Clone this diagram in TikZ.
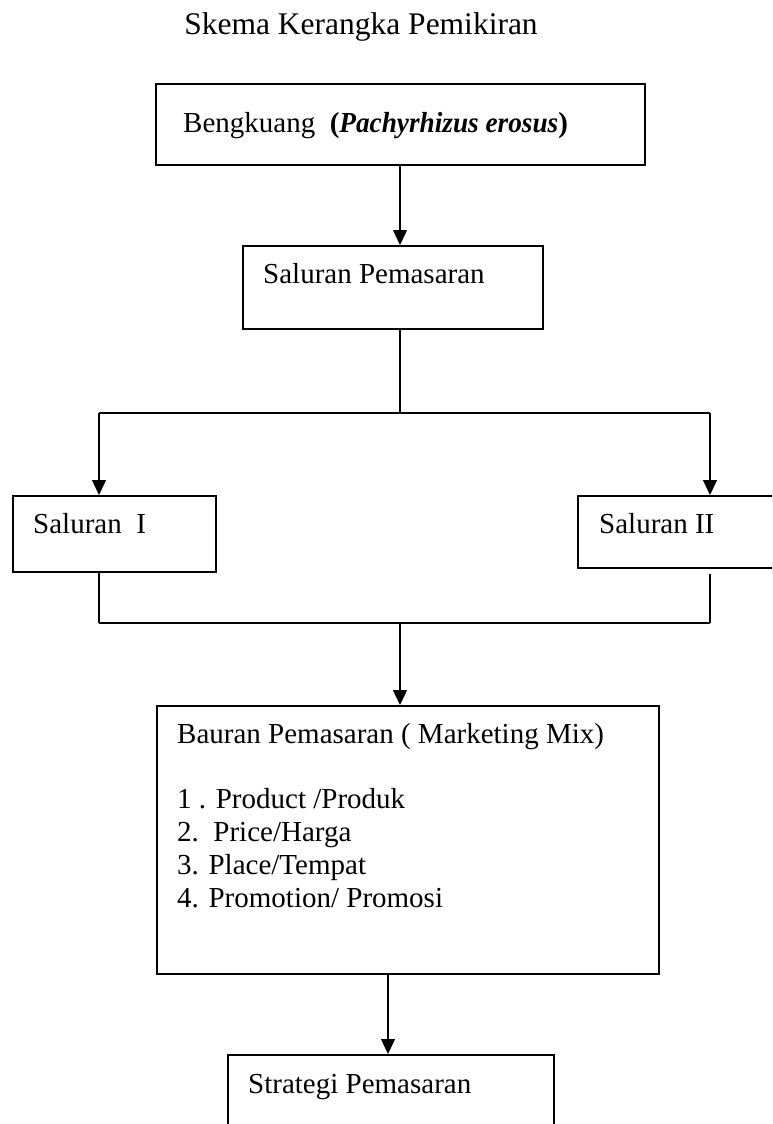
\documentclass[tikz,border=0pt]{standalone}
\usepackage{fontspec}
\setmainfont{Liberation Serif}
\newfontfamily\latinname{Liberation Serif}[FakeStretch=0.94]
\usetikzlibrary{arrows.meta}

\begin{document}
\begin{tikzpicture}[x=1pt, y=-1pt]
    \tikzset{box/.style = {shape=rectangle, draw, line width=1.6pt, anchor=north west, inner sep=0pt}}
    \tikzset{txt/.style = {anchor=base west, inner sep=0pt, font=\fontsize{29}{33}\selectfont}}
    \tikzset{link/.style = {draw, line width=1.3pt}}
    \tikzset{edge/.style = {link, -{Triangle[length=15pt, width=14pt]}}}

    \useasboundingbox (0,0) rectangle (772,1124);
    \clip (0,0) rectangle (772,1124);

    % title
    \node[txt, anchor=base, font=\fontsize{31.5}{35}\selectfont] (title) at (361,35) {Skema Kerangka Pemikiran};

    % boxes
    \node[box, minimum width=489pt, minimum height=81pt] (bengkuang) at (155,83) {};
    \node[txt] (bengkuangtxt) at (183,132) {Bengkuang\ \ \textbf{({\latinname\bfseries\itshape Pachyrhizus erosus})}};

    \node[box, minimum width=300pt, minimum height=83pt] (pemasaran) at (242,245) {};
    \node[txt] (pemasarantxt) at (263,283) {Saluran Pemasaran};

    \node[box, minimum width=203pt, minimum height=76pt] (saluran1) at (12,495) {};
    \node[txt] (saluran1txt) at (33,533) {Saluran\ \ I};

    \node[box, minimum width=220pt, minimum height=72pt] (saluran2) at (577,495) {};
    \node[txt] (saluran2txt) at (599,533) {Saluran II};

    \node[box, minimum width=502pt, minimum height=268pt] (bauran) at (156,705) {};
    \node[txt] (baurantxt) at (177,743) {Bauran Pemasaran ( Marketing Mix)};
    \foreach \item [count=\i] in {1 . Product /Produk, 2.\ \ Price/Harga, 3. Place/Tempat, 4. Promotion/ Promosi}
        \node[txt] (mix\i) at (177,775+33*\i) {\item};

    \node[box, minimum width=326pt, minimum height=100pt] (strategi) at (227,1054) {};
    \node[txt] (strategitxt) at (248,1093) {Strategi Pemasaran};

    % junctions
    \coordinate (split) at (400,413);
    \coordinate (splitL) at (99,413);
    \coordinate (splitR) at (710,413);
    \coordinate (join) at (400,623);
    \coordinate (joinL) at (99,623);
    \coordinate (joinR) at (710,623);

    % edges
    \draw[edge] (bengkuang.south -| split) -- (pemasaran.north -| split);
    \draw[link] (pemasaran.south -| split) -- (split);
    \draw[link] (splitL) -- (splitR);
    \draw[edge] (splitL) -- (saluran1.north -| splitL);
    \draw[edge] (splitR) -- (saluran2.north -| splitR);
    \draw[link] ([yshift=2pt]saluran1.south -| joinL) -- (joinL);
    \draw[link] ([yshift=-5pt]saluran2.south -| joinR) -- (joinR);
    \draw[link] (joinL) -- (joinR);
    \draw[edge] (join) -- (bauran.north -| join);
    \draw[edge] (bauran.south -| 388,0) -- (strategi.north -| 388,0);
\end{tikzpicture}
\end{document}
